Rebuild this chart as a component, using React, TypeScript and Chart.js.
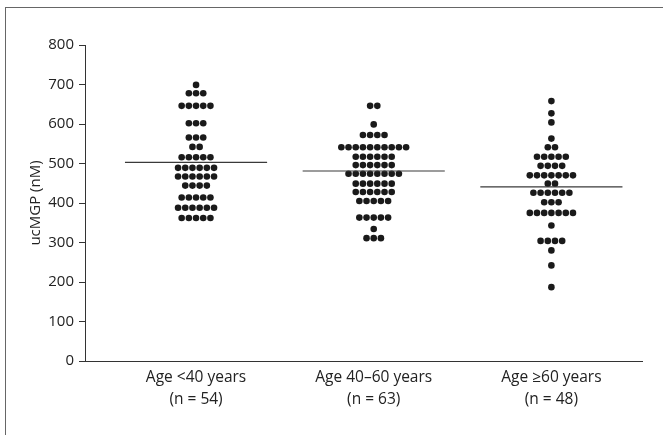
import React, { useEffect, useRef } from "react";
import { Chart, registerables } from "chart.js";

Chart.register(...registerables);

const categories = ["Age <40 years", "Age 40–60 years", "Age ≥60 years"];
const sampleSizes = ["(n = 54)", "(n = 63)", "(n = 48)"];

// Individual ucMGP values (nM)
const groupUnder40 = [
  699,
  678, 678, 678,
  646, 646, 646, 646, 646,
  602, 602, 602,
  566, 566, 566,
  542, 542,
  516, 516, 516, 516, 516,
  489, 489, 489, 489, 489, 489,
  467, 467, 467, 467, 467, 467,
  444, 444, 444, 444,
  414, 414, 414, 414, 414,
  388, 388, 388, 388, 388, 388,
  362, 362, 362, 362, 362,
];
const group40to60 = [
  646, 646,
  599,
  572, 572, 572, 572,
  541, 541, 541, 541, 541, 541, 541, 541, 541, 541,
  517, 517, 517, 517, 517, 517,
  496, 496, 496, 496, 496, 496,
  474, 474, 474, 474, 474, 474, 474, 474,
  449, 449, 449, 449, 449, 449,
  428, 428, 428, 428, 428, 428,
  405, 405, 405, 405, 405,
  363, 363, 363, 363, 363,
  334,
  311, 311, 311,
];
const groupOver60 = [
  658,
  627,
  604,
  563,
  541, 541,
  517, 517, 517, 517, 517,
  494, 494, 494, 494,
  470, 470, 470, 470, 470, 470, 470,
  449, 449,
  426, 426, 426, 426, 426, 426,
  402, 402, 402,
  375, 375, 375, 375, 375, 375, 375,
  343,
  304, 304, 304, 304,
  280,
  242,
  187,
];
const groups = [groupUnder40, group40to60, groupOver60];
const medians = [503, 481, 441];

const yTicks = [0, 100, 200, 300, 400, 500, 600, 700, 800];

const DOT_STEP = 0.0405; // horizontal spacing between side-by-side dots (x units)
const MEDIAN_HALF = 0.4;

function swarm(values: number[], center: number) {
  const counts = new Map<number, number>();
  values.forEach((v) => counts.set(v, (counts.get(v) || 0) + 1));
  const pts: { x: number; y: number }[] = [];
  counts.forEach((n, v) => {
    for (let i = 0; i < n; i++) {
      pts.push({ x: center + (i - (n - 1) / 2) * DOT_STEP, y: v });
    }
  });
  return pts;
}

export default function App() {
  const ref = useRef<HTMLCanvasElement | null>(null);

  useEffect(() => {
    if (!ref.current) return;
    const family = "'Open Sans', 'Noto Sans', sans-serif";
    const xFont = { family, size: 15.5, lineHeight: 1.42 };
    const yFont = { family, size: 15 };
    const dotSets = groups.map((g, i) => ({
      type: "scatter" as const,
      data: swarm(g, i + 1),
      pointRadius: 3.3,
      pointHoverRadius: 3.3,
      pointBackgroundColor: "#1a1a1a",
      pointBorderWidth: 0,
      showLine: false,
    }));
    const medianSets = medians.map((m, i) => ({
      type: "scatter" as const,
      data: [
        { x: i + 1 - MEDIAN_HALF, y: m },
        { x: i + 1 + MEDIAN_HALF, y: m },
      ],
      showLine: true,
      borderColor: "#3a3a3a",
      borderWidth: 1.2,
      pointRadius: 0,
    }));
    const chart = new Chart(ref.current, {
      type: "scatter",
      data: { datasets: [...medianSets, ...dotSets] as any },
      options: {
        animation: false,
        responsive: false,
        events: [],
        layout: { padding: { left: 0, top: 45, right: 21, bottom: 0 } },
        plugins: { legend: { display: false }, tooltip: { enabled: false } },
        scales: {
          x: {
            type: "linear",
            min: 0.375,
            max: 3.51,
            afterBuildTicks: (s: any) => {
              s.ticks = categories.map((_, i) => ({ value: i + 1 }));
            },
            afterFit: (s: any) => {
              s.height = 74;
            },
            ticks: {
              autoSkip: false,
              maxRotation: 0,
              padding: 6,
              color: "#222",
              font: xFont,
              callback: (v: any) => {
                const i = Math.round(Number(v)) - 1;
                return [categories[i], sampleSizes[i]];
              },
            },
            grid: { display: false, drawTicks: false },
            border: { display: true, color: "#333", width: 1 },
          },
          y: {
            min: 0,
            max: 800,
            afterBuildTicks: (s: any) => {
              s.ticks = yTicks.map((v) => ({ value: v }));
            },
            afterFit: (s: any) => {
              s.width = 85;
            },
            ticks: { padding: 5, color: "#222", font: yFont },
            grid: {
              drawOnChartArea: false,
              drawTicks: true,
              tickLength: 6,
              color: "#333",
            },
            border: { display: true, color: "#333", width: 1 },
            title: {
              display: true,
              text: "ucMGP (nM)",
              color: "#222",
              font: yFont,
              padding: { top: 27, bottom: 0 },
            },
          },
        },
      },
    });
    return () => chart.destroy();
  }, []);

  return (
    <div
      style={{
        position: "fixed",
        left: 0,
        top: 0,
        width: 663,
        height: 435,
        background: "#fff",
        overflow: "hidden",
      }}
    >
      <div
        style={{
          position: "absolute",
          left: 5,
          top: 7,
          width: 700,
          height: 500,
          borderLeft: "1.5px solid #666",
          borderTop: "1.5px solid #666",
        }}
      />
      <canvas
        ref={ref}
        width={663}
        height={435}
        style={{ position: "absolute", left: 0, top: 0, width: 663, height: 435 }}
      />
    </div>
  );
}
